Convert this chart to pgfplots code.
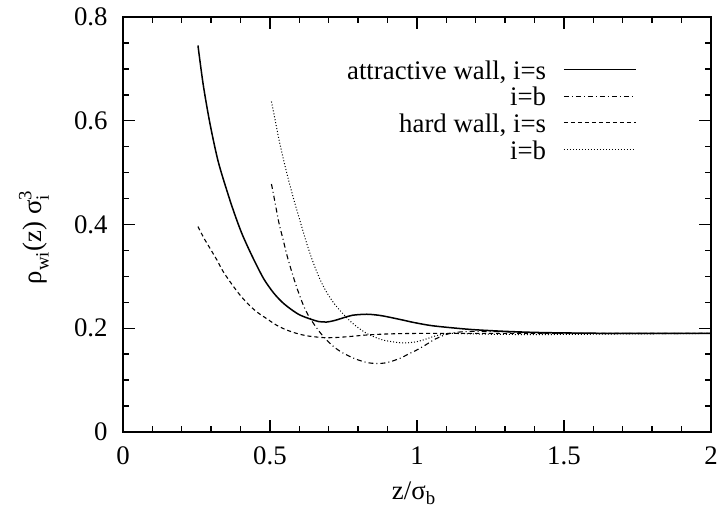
\documentclass[border=0pt]{standalone}
\usepackage{fontspec}
\setmainfont{Liberation Serif}
\usepackage{amsmath}
\usepackage{pgfplots}
\pgfplotsset{compat=1.18}
\newcommand{\myfnt}{\fontsize{13.4}{16}\selectfont}
\begin{document}
\begin{tikzpicture}
\begin{axis}[
  scale only axis, width=294pt, height=207.5pt,
  xmin=0, xmax=2, ymin=0, ymax=0.8,
  xtick={0,0.5,1,1.5,2}, ytick={0,0.2,0.4,0.6,0.8},
  minor x tick num=4, minor y tick num=3,
  tick align=inside, major tick length=6pt, minor tick length=3pt,
  axis line style={line width=0.8pt}, every tick/.style={line width=0.7pt, black},
  /pgf/number format/assume math mode=true,
  tick label style={font=\myfnt},
  xticklabel style={anchor=base, inner sep=0pt, yshift=-16.5pt},
  yticklabel style={anchor=east, inner sep=0pt, xshift=-7.5pt},
  xlabel={z/σ$_{\text{b}}$},
  ylabel={$\text{ρ}_{\text{wi}}$(z) σ$_{\text{i}}^{\text{3}}$},
  xlabel style={font=\myfnt, at={(rel axis cs:0.495,0)}, anchor=base, inner sep=0pt, yshift=-34pt},
  ylabel style={font=\myfnt, at={(rel axis cs:0,0.47)}, anchor=center, inner sep=0pt, yshift=44.5pt},
  legend style={font=\myfnt, draw=none, fill=none, at={(rel axis cs:0.8741,0.8964)}, anchor=north east,
    inner sep=0pt, row sep=0pt, column sep=0pt,
    nodes={inner sep=0pt, text height=9.5pt, text depth=3.8pt}},
  legend cell align=right, legend plot pos=right,
  legend image code/.code={\path (0pt,0pt); \draw[#1] (8.5pt,2pt) -- (44.5pt,2pt);},
]
\addplot[black, line width=0.75pt, smooth] coordinates {
(0.255,0.745) (0.273,0.669) (0.296,0.594) (0.324,0.521) (0.358,0.457) (0.381,0.418) (0.404,0.383) (0.43,0.35) (0.454,0.322) (0.48,0.294) (0.511,0.269) (0.54,0.251) (0.568,0.238) (0.60,0.226) (0.636,0.218) (0.665,0.213) (0.693,0.212) (0.72,0.215) (0.749,0.220) (0.78,0.225) (0.829,0.227) (0.87,0.225) (0.90,0.222) (0.95,0.216) (0.99,0.211) (1.05,0.205) (1.135,0.200) (1.2,0.197) (1.3,0.194) (1.4,0.192) (1.5,0.191) (1.7,0.19) (2.0,0.19)};
\addlegendentry{attractive wall, i=s}
\addplot[black, line width=0.55pt, smooth, dash pattern=on 2.5pt off 1.5pt on 0.5pt off 1.5pt] coordinates {
(0.505,0.478) (0.518,0.44) (0.530,0.404) (0.545,0.37) (0.558,0.34) (0.575,0.307) (0.592,0.277) (0.613,0.245) (0.63,0.225) (0.647,0.21) (0.67,0.192) (0.693,0.177) (0.72,0.163) (0.749,0.152) (0.79,0.141) (0.829,0.134) (0.865,0.132) (0.9,0.134) (0.942,0.142) (0.97,0.15) (0.999,0.158) (1.03,0.168) (1.055,0.177) (1.085,0.185) (1.112,0.19) (1.15,0.193) (1.2,0.194) (1.3,0.193) (1.4,0.191) (1.6,0.19) (2.0,0.19)};
\addlegendentry{i=b}
\addplot[black, line width=0.55pt, smooth, dash pattern=on 2pt off 1.5pt] coordinates {
(0.255,0.396) (0.275,0.374) (0.296,0.354) (0.32,0.331) (0.341,0.309) (0.37,0.285) (0.398,0.264) (0.425,0.247) (0.454,0.232) (0.49,0.218) (0.522,0.206) (0.555,0.197) (0.591,0.190) (0.63,0.185) (0.681,0.182) (0.72,0.182) (0.77,0.184) (0.83,0.187) (0.9,0.189) (1.0,0.19) (1.2,0.19) (1.5,0.19) (2.0,0.19)};
\addlegendentry{hard wall, i=s}
\addplot[black, line width=0.5pt, smooth, dash pattern=on 0.5pt off 1pt] coordinates {
(0.505,0.637) (0.518,0.60) (0.530,0.565) (0.546,0.525) (0.563,0.486) (0.58,0.45) (0.598,0.415) (0.615,0.382) (0.632,0.351) (0.65,0.322) (0.671,0.293) (0.69,0.272) (0.715,0.250) (0.74,0.233) (0.772,0.214) (0.80,0.201) (0.829,0.190) (0.86,0.182) (0.886,0.177) (0.915,0.174) (0.942,0.172) (0.97,0.172) (0.999,0.174) (1.03,0.179) (1.055,0.184) (1.085,0.188) (1.112,0.19) (1.2,0.189) (1.3,0.188) (1.5,0.188) (1.7,0.189) (2.0,0.19)};
\addlegendentry{i=b}
\coordinate (ll) at (rel axis cs:0,0);
\coordinate (ur) at (rel axis cs:1,1);
\end{axis}
\pgfresetboundingbox
\path ([shift={(-61.5pt,-40pt)}]ll) rectangle ([shift={(3.5pt,8.5pt)}]ur);
\end{tikzpicture}
\end{document}
